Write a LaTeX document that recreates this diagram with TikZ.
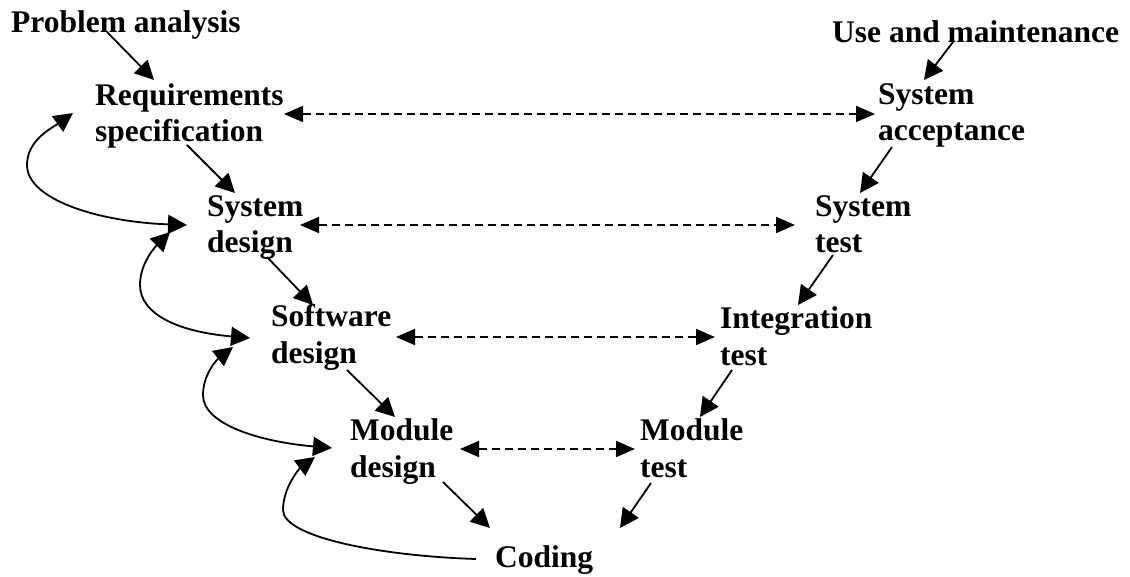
\documentclass[tikz,border=0pt]{standalone}
\usepackage{fontspec}
\setmainfont{Liberation Serif}
\usetikzlibrary{arrows.meta}
\tikzset{
  % multi-line labels are placed by the baseline of their last line
  stage/.style={font=\fontsize{31.5}{36.5}\selectfont\bfseries, align=left,
                inner sep=0pt, anchor=base west},
  bigtip/.style={Triangle[length=19pt,width=19pt]},
  flow/.style={line width=1.8pt, -{Triangle[length=19pt,width=19pt]}},
  link/.style={line width=1.8pt, dash pattern=on 8pt off 5pt,
               {Triangle[length=19pt,width=16pt]}-{Triangle[length=19pt,width=16pt]}},
  loopback/.style={line width=1.8pt, {Triangle[length=19pt,width=19pt]}-{Triangle[length=19pt,width=19pt]}},
  loopend/.style={line width=1.8pt, -{Triangle[length=19pt,width=19pt]}}
}
\begin{document}
\begin{tikzpicture}[x=1pt, y=-1pt]
\useasboundingbox (0,0) rectangle (1130,577);

% development stages (left branch)
\node[stage] (prob)   at (11,33)   {Problem analysis};
\node[stage] (req)    at (95,142)  {Requirements\\specification};
\node[stage] (sysd)   at (207,253) {System\\design};
\node[stage] (softd)  at (271,363) {Software\\design};
\node[stage] (modd)   at (350,477) {Module\\design};
\node[stage] (coding) at (495,567) {Coding};

% verification stages (right branch)
\node[stage] (use)    at (832,43)  {Use and maintenance};
\node[stage] (acc)    at (878,141) {System\\acceptance};
\node[stage] (syst)   at (815,253) {System\\test};
\node[stage] (integ)  at (720,365) {Integration\\test};
\node[stage] (modt)   at (640,477) {Module\\test};

% attachment points of the connectors
\coordinate (prob-o)  at (107,32);  \coordinate (req-i)   at (154,80);
\coordinate (req-o)   at (187,145); \coordinate (sysd-i)  at (235,193);
\coordinate (sysd-o)  at (267,257); \coordinate (softd-i) at (313,305);
\coordinate (softd-o) at (347,370); \coordinate (modd-i)  at (395,417);
\coordinate (modd-o)  at (443,482); \coordinate (cod-l)   at (490,528);
\coordinate (use-o)   at (953,42);  \coordinate (acc-i)   at (924,80);
\coordinate (acc-o)   at (892,147); \coordinate (syst-i)  at (860,193);
\coordinate (syst-o)  at (833,255); \coordinate (integ-i) at (798,305);
\coordinate (integ-o) at (732,370); \coordinate (modt-i)  at (700,417);
\coordinate (modt-o)  at (651,483); \coordinate (cod-r)   at (620,528);

\coordinate (req-e)   at (284,114); \coordinate (acc-w)   at (875,114);
\coordinate (sysd-e)  at (300,225); \coordinate (syst-w)  at (795,225);
\coordinate (softd-e) at (396,337); \coordinate (integ-w) at (715,337);
\coordinate (modd-e)  at (460,449); \coordinate (modt-w)  at (635,449);

\coordinate (req-f)   at (73,113);  \coordinate (sysd-f)  at (187,225);
\coordinate (sysd-b)  at (170,232); \coordinate (softd-f) at (250,338);
\coordinate (softd-b) at (233,347); \coordinate (modd-f)  at (332,448);
\coordinate (modd-b)  at (315,457); \coordinate (cod-f)   at (476,559);

% flow down the left branch
\draw[flow] (prob-o)  -- (req-i);
\draw[flow] (req-o)   -- (sysd-i);
\draw[flow] (sysd-o)  -- (softd-i);
\draw[flow] (softd-o) -- (modd-i);
\draw[flow] (modd-o)  -- (cod-l);

% flow down the right branch
\draw[flow] (use-o)   -- (acc-i);
\draw[flow] (acc-o)   -- (syst-i);
\draw[flow] (syst-o)  -- (integ-i);
\draw[flow] (integ-o) -- (modt-i);
\draw[flow] (modt-o)  -- (cod-r);

% correspondence between levels
\draw[link] (req-e)   -- (acc-w);
\draw[link] (sysd-e)  -- (syst-w);
\draw[link] (softd-e) -- (integ-w);
\draw[link] (modd-e)  -- (modt-w);

% feedback loops
\draw[loopback] (sysd-f) .. controls (100,222) and (27,200) .. (27,165)
                .. controls (27,140) and (52,128) .. (req-f);
\draw[loopback] (softd-f) .. controls (180,332) and (140,315) .. (140,285)
                .. controls (140,262) and (157,245) .. (sysd-b);
\draw[loopback] (modd-f) .. controls (262,442) and (203,425) .. (203,395)
                .. controls (203,372) and (220,357) .. (softd-b);
\draw[loopend] (cod-f) .. controls (380,556) and (283,537) .. (283,510)
                .. controls (283,487) and (300,468) .. (modd-b);
\end{tikzpicture}
\end{document}
